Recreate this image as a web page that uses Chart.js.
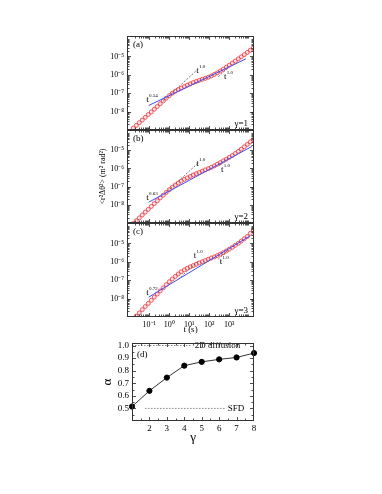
<!DOCTYPE html>
<html>
<head>
<meta charset="utf-8">
<title>MSD panels</title>
<script src="https://cdn.jsdelivr.net/npm/chart.js"></script>
<style>
  html, body { margin: 0; padding: 0; background: #fff; }
  #fig { position: relative; width: 382px; height: 494px; }
  #fig canvas { position: absolute; left: 0; top: 0; }
</style>
</head>
<body>
<div id="fig">
  <canvas id="panelA" width="382" height="494"></canvas>
  <canvas id="panelB" width="382" height="494"></canvas>
  <canvas id="panelC" width="382" height="494"></canvas>
  <canvas id="panelD" width="382" height="494"></canvas>
</div>
<script>
// lag times (s), shared by the three MSD panels
const lagTimes = [0.0158, 0.0224, 0.0316, 0.0447, 0.0631, 0.0891, 0.126, 0.178, 0.251, 0.355,
  0.501, 0.708, 1.00, 1.41, 2.00, 2.82, 3.98, 5.62, 7.94, 11.2,
  15.8, 22.4, 31.6, 44.7, 63.1, 89.1, 126, 178, 251, 355,
  501, 708, 1000, 1413, 1995, 2818, 3981, 5623, 7943, 11220, 15850];

// <r^2 dtheta^2> (m^2 rad^2)
const msdGamma1 = [1.26e-9, 1.78e-9, 2.51e-9, 3.47e-9, 4.90e-9, 6.92e-9, 9.55e-9, 1.35e-8, 1.91e-8, 2.69e-8,
  3.80e-8, 5.37e-8, 7.41e-8, 1.00e-7, 1.29e-7, 1.58e-7, 1.91e-7, 2.29e-7, 2.75e-7, 3.24e-7,
  3.80e-7, 4.37e-7, 5.01e-7, 5.75e-7, 6.46e-7, 7.41e-7, 8.71e-7, 1.05e-6, 1.29e-6, 1.62e-6,
  2.04e-6, 2.63e-6, 3.39e-6, 4.37e-6, 5.62e-6, 7.41e-6, 9.55e-6, 1.26e-5, 1.66e-5, 2.19e-5, 2.88e-5];
const msdGamma2 = [9.33e-10, 1.32e-9, 1.91e-9, 2.75e-9, 3.98e-9, 5.62e-9, 8.13e-9, 1.17e-8, 1.66e-8, 2.40e-8,
  3.39e-8, 4.79e-8, 6.76e-8, 9.33e-8, 1.23e-7, 1.58e-7, 2.00e-7, 2.51e-7, 3.02e-7, 3.63e-7,
  4.37e-7, 5.13e-7, 6.03e-7, 7.08e-7, 8.32e-7, 9.77e-7, 1.15e-6, 1.38e-6, 1.70e-6, 2.09e-6,
  2.63e-6, 3.24e-6, 4.07e-6, 5.13e-6, 6.61e-6, 8.71e-6, 1.15e-5, 1.55e-5, 2.09e-5, 2.88e-5, 3.98e-5];
const msdGamma3 = [7.59e-10, 1.12e-9, 1.66e-9, 2.51e-9, 3.72e-9, 5.50e-9, 8.13e-9, 1.20e-8, 1.78e-8, 2.63e-8,
  3.89e-8, 5.75e-8, 8.32e-8, 1.17e-7, 1.62e-7, 2.19e-7, 2.88e-7, 3.63e-7, 4.47e-7, 5.37e-7,
  6.31e-7, 7.41e-7, 8.71e-7, 1.02e-6, 1.17e-6, 1.38e-6, 1.62e-6, 1.86e-6, 2.19e-6, 2.63e-6,
  3.16e-6, 3.89e-6, 4.90e-6, 6.17e-6, 7.94e-6, 1.02e-5, 1.35e-5, 1.82e-5, 2.40e-5, 3.55e-5, 5.37e-5];

// power law fits (blue), end points
const fitTimesA = [0.093, 6761];
const fitValsA = [2.14e-8, 7.41e-6];
const fitTimesB = [0.093, 13490];
const fitValsB = [1.38e-8, 1.62e-5];
const fitTimesC = [0.093, 11220];
const fitValsC = [1.20e-8, 2.63e-5];
const fitExponents = ['0.54', '0.63', '0.72'];

// t^1.0 guide lines (dashed), [t, y] end points
const guidesA = [[[0.501, 3.80e-8], [22.4, 1.70e-6]], [[282, 7.94e-7], [891, 2.51e-6]]];
const guidesB = [[[0.631, 4.47e-8], [28.2, 2.00e-6]], [[316, 1.41e-6], [891, 3.98e-6]]];
const guidesC = [[[2.82, 1.12e-7], [28.2, 1.12e-6]], [[282, 1.41e-6], [891, 4.47e-6]]];

const timeTicks = [0.1, 1, 10, 100, 1000];
const msdTicks = [1e-8, 1e-7, 1e-6, 1e-5];

// panel (d)
const gammaVals = [1, 2, 3, 4, 5, 6, 7, 8];
const alphaVals = [0.515, 0.64, 0.745, 0.84, 0.87, 0.89, 0.905, 0.94];
const gammaTicks = [2, 3, 4, 5, 6, 7, 8];
const alphaTicks = [0.5, 0.6, 0.7, 0.8, 0.9, 1.0];
const diffusionAlpha = 1.0;
const sfdAlpha = 0.5;

const SERIF = '"Liberation Serif", "Times New Roman", serif';
Chart.defaults.font.family = SERIF;
Chart.defaults.color = '#000';

const SUP = { '-': '\u207B', '0': '\u2070', '1': '\u00B9', '2': '\u00B2', '3': '\u00B3',
  '4': '\u2074', '5': '\u2075', '6': '\u2076', '7': '\u2077', '8': '\u2078', '9': '\u2079' };
function pow10Label(v) {
  const e = String(Math.round(Math.log10(v)));
  return '10' + e.split('').map(c => SUP[c]).join('');
}

function logMinors(lo, hi) {
  const out = [];
  for (let k = lo; k <= hi; k++) for (let m = 2; m <= 9; m++) out.push(m * Math.pow(10, k));
  return out;
}

// frame box + inward ticks on all four sides
function frameTicks(cfg) {
  return {
    id: 'frameTicks',
    afterDraw(chart) {
      const { ctx, chartArea: a } = chart;
      const sx = chart.scales.x, sy = chart.scales.y;
      const L = Math.round(a.left) + 0.5, R = Math.round(a.right) - 0.5;
      const T = Math.round(a.top) + 0.5, B = Math.round(a.bottom) - 0.5;
      ctx.save();
      ctx.strokeStyle = '#222';
      ctx.lineWidth = 0.8;
      const seg = (x1, y1, x2, y2) => { ctx.beginPath(); ctx.moveTo(x1, y1); ctx.lineTo(x2, y2); ctx.stroke(); };
      const xt = (vals, len) => vals.forEach(v => {
        const x = Math.round(sx.getPixelForValue(v)) + 0.5;
        if (x <= L + 1 || x >= R - 1) return;
        seg(x, B, x, B - len); seg(x, T, x, T + len);
      });
      const yt = (vals, len) => vals.forEach(v => {
        const y = Math.round(sy.getPixelForValue(v)) + 0.5;
        if (y <= T + 1 || y >= B - 1) return;
        seg(L, y, L + len, y); seg(R, y, R - len, y);
      });
      xt(cfg.xMajor, 3.5); xt(cfg.xMinor, 2);
      yt(cfg.yMajor, 3.5); yt(cfg.yMinor, 2);
      ctx.lineWidth = 1;
      ctx.strokeStyle = '#333';
      ctx.strokeRect(L, T, R - L, B - T);
      ctx.restore();
    }
  };
}

// text notes, either in data coords or offset from a corner of the plot area
function notes(items) {
  return {
    id: 'notes',
    afterDatasetsDraw(chart) {
      const { ctx, chartArea: a } = chart;
      ctx.save();
      ctx.fillStyle = '#000';
      ctx.textBaseline = 'middle';
      items.forEach(n => {
        let px, py;
        if (n.corner) {
          px = (n.corner[0] === 'r' ? a.right : a.left) + n.dx;
          py = (n.corner[1] === 'b' ? a.bottom : a.top) + n.dy;
        } else {
          px = chart.scales.x.getPixelForValue(n.x);
          py = chart.scales.y.getPixelForValue(n.y);
        }
        ctx.font = (n.size || 9) + 'px ' + SERIF;
        ctx.textAlign = n.align || 'left';
        ctx.fillText(n.text, px, py);
        if (n.sup) {
          const w = ctx.measureText(n.text).width;
          ctx.font = '5px ' + SERIF;
          ctx.textAlign = 'left';
          ctx.fillText(n.sup, px + w + 0.3, py - 4);
        }
      });
      ctx.restore();
    }
  };
}

function toPts(xs, ys) { return xs.map((x, i) => ({ x: x, y: ys[i] })); }

function logPanel(id, msd, fitT, fitY, guides, labels, box) {
  const datasets = [
    { data: toPts(fitT, fitY), showLine: true, borderColor: '#3f4ff2', borderWidth: 1, pointRadius: 0 },
    ...guides.map(g => ({
      data: g.map(p => ({ x: p[0], y: p[1] })), showLine: true,
      borderColor: '#555', borderWidth: 0.8, borderDash: [2, 1.5], pointRadius: 0
    })),
    { data: toPts(lagTimes, msd), pointRadius: 2, pointBorderWidth: 0.8,
      pointBorderColor: 'rgba(232,36,48,0.9)', pointBackgroundColor: 'rgba(250,160,165,0.3)' }
  ];
  new Chart(document.getElementById(id), {
    type: 'scatter',
    data: { datasets: datasets },
    options: {
      responsive: false, animation: false, events: [], devicePixelRatio: 1,
      layout: { padding: box.padding },
      plugins: { legend: { display: false }, tooltip: { enabled: false } },
      scales: {
        x: {
          type: 'logarithmic', min: 0.0077, max: 17200,
          display: box.showX,
          afterFit: s => { s.height = box.showX ? 20 : 0; },
          afterBuildTicks: s => { s.ticks = timeTicks.map(v => ({ value: v })); },
          grid: { display: false, drawTicks: false }, border: { display: false },
          ticks: { callback: v => pow10Label(v), font: { size: 8 }, padding: 3, maxRotation: 0, autoSkip: false },
          title: { display: box.showX, text: 't (s)', font: { size: 9 }, padding: { top: 0, bottom: 2 } }
        },
        y: {
          type: 'logarithmic', min: 1.0e-9, max: 1.3e-4,
          afterFit: s => { s.width = 30; },
          afterBuildTicks: s => { s.ticks = msdTicks.map(v => ({ value: v })); },
          grid: { display: false, drawTicks: false }, border: { display: false },
          ticks: { callback: v => pow10Label(v), font: { size: 8 }, padding: 3, autoSkip: false },
          title: { display: !!box.yTitle, text: box.yTitle || '', font: { size: 8 }, padding: { top: 1, bottom: 0 } }
        }
      }
    },
    plugins: [
      frameTicks({ xMajor: timeTicks, xMinor: logMinors(-3, 4), yMajor: msdTicks, yMinor: logMinors(-10, -4) }),
      notes(labels)
    ]
  });
}

logPanel('panelA', msdGamma1, fitTimesA, fitValsA, guidesA, [
  { corner: 'lt', dx: 6, dy: 9, text: '(a)' },
  { corner: 'rb', dx: -6, dy: -6, text: '\u03B3=1', align: 'right' },
  { x: 0.071, y: 4.47e-8, text: 't', sup: fitExponents[0] },
  { x: 22, y: 1.7e-6, text: 't', sup: '1.0' },
  { x: 540, y: 7.6e-7, text: 't', sup: '1.0' }
], { padding: { left: 97, top: 36, right: 128, bottom: 364 }, showX: false });

logPanel('panelB', msdGamma2, fitTimesB, fitValsB, guidesB, [
  { corner: 'lt', dx: 6, dy: 9, text: '(b)' },
  { corner: 'rb', dx: -6, dy: -6, text: '\u03B3=2', align: 'right' },
  { x: 0.071, y: 2.4e-8, text: 't', sup: fitExponents[1] },
  { x: 22, y: 1.74e-6, text: 't', sup: '1.0' },
  { x: 380, y: 8.1e-7, text: 't', sup: '1.0' }
], { padding: { left: 97, top: 130, right: 128, bottom: 271 }, showX: false,
     yTitle: '<r\u00B2\u0394\u03B8\u00B2> (m\u00B2 rad\u00B2)' });

logPanel('panelC', msdGamma3, fitTimesC, fitValsC, guidesC, [
  { corner: 'lt', dx: 6, dy: 9, text: '(c)' },
  { corner: 'rb', dx: -6, dy: -6, text: '\u03B3=3', align: 'right' },
  { x: 0.071, y: 2.0e-8, text: 't', sup: fitExponents[2] },
  { x: 16.6, y: 2.19e-6, text: 't', sup: '1.0' },
  { x: 331, y: 1.07e-6, text: 't', sup: '1.0' }
], { padding: { left: 97, top: 223, right: 128, bottom: 157 }, showX: true });

// panel (d): exponent alpha vs gamma
new Chart(document.getElementById('panelD'), {
  type: 'scatter',
  data: {
    datasets: [
      { data: toPts(gammaVals, alphaVals), showLine: true, borderColor: '#333', borderWidth: 1,
        pointRadius: 2.6, pointBackgroundColor: '#000', pointBorderColor: '#000', clip: false },
      { data: [{ x: 1, y: diffusionAlpha }, { x: 4.45, y: diffusionAlpha }], showLine: true,
        borderColor: '#666', borderWidth: 0.8, borderDash: [1.5, 1.5], pointRadius: 0 },
      { data: [{ x: 1.75, y: sfdAlpha }, { x: 6.35, y: sfdAlpha }], showLine: true,
        borderColor: '#666', borderWidth: 0.8, borderDash: [1.5, 1.5], pointRadius: 0 }
    ]
  },
  options: {
    responsive: false, animation: false, events: [], devicePixelRatio: 1,
    layout: { padding: { left: 100, top: 343, right: 128, bottom: 49 } },
    plugins: { legend: { display: false }, tooltip: { enabled: false } },
    scales: {
      x: {
        type: 'linear', min: 1, max: 8,
        afterFit: s => { s.height = 24; },
        afterBuildTicks: s => { s.ticks = gammaTicks.map(v => ({ value: v })); },
        grid: { display: false, drawTicks: false }, border: { display: false },
        ticks: { font: { size: 9 }, padding: 2, autoSkip: false, maxRotation: 0 },
        title: { display: true, text: '\u03B3', font: { size: 13 }, padding: 0 }
      },
      y: {
        type: 'linear', min: 0.4, max: 1.02,
        afterFit: s => { s.width = 32; },
        afterBuildTicks: s => { s.ticks = alphaTicks.map(v => ({ value: v })); },
        grid: { display: false, drawTicks: false }, border: { display: false },
        ticks: { font: { size: 9 }, padding: 3, autoSkip: false, callback: v => v.toFixed(1) },
        title: { display: true, text: '\u03B1', font: { size: 13 }, padding: 0 }
      }
    }
  },
  plugins: [
    frameTicks({ xMajor: [1, 2, 3, 4, 5, 6, 7, 8], xMinor: [1.5, 2.5, 3.5, 4.5, 5.5, 6.5, 7.5],
                 yMajor: alphaTicks, yMinor: [0.45, 0.55, 0.65, 0.75, 0.85, 0.95] }),
    notes([
      { corner: 'lt', dx: 5, dy: 12, text: '(d)' },
      { x: 4.6, y: diffusionAlpha, text: '2D diffusion' },
      { x: 6.5, y: sfdAlpha, text: 'SFD' }
    ])
  ]
});
</script>
</body>
</html>
